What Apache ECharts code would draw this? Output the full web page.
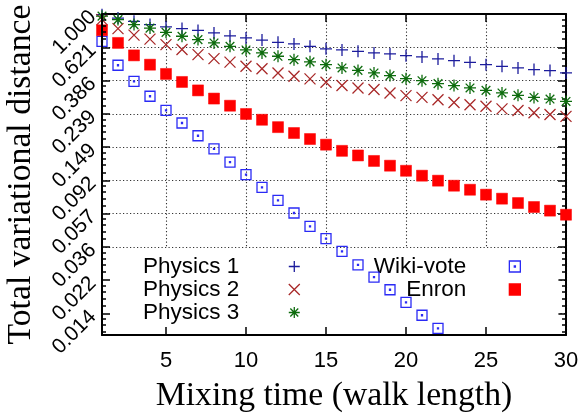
<!DOCTYPE html>
<html>
<head>
<meta charset="utf-8">
<title>Mixing time</title>
<script src="https://cdn.jsdelivr.net/npm/echarts@6/dist/echarts.min.js"></script>
<style>
  html, body { margin: 0; padding: 0; background: #fff; }
  #chart { width: 586px; height: 416px; }
</style>
</head>
<body>
<div id="chart"></div>
<script>
// walk length (x) and total variational distance per dataset
const walkLength = [1, 2, 3, 4, 5, 6, 7, 8, 9, 10, 11, 12, 13, 14, 15,
  16, 17, 18, 19, 20, 21, 22, 23, 24, 25, 26, 27, 28, 29, 30]
const physics1 = [0.990, 0.943, 0.901, 0.859, 0.831, 0.812, 0.791, 0.763, 0.731, 0.710,
  0.688, 0.667, 0.652, 0.630, 0.607, 0.598, 0.586, 0.573, 0.565, 0.551,
  0.541, 0.526, 0.513, 0.501, 0.484, 0.473, 0.462, 0.451, 0.445, 0.430]
const physics2 = [0.923, 0.811, 0.739, 0.698, 0.645, 0.601, 0.559, 0.528, 0.502, 0.473,
  0.457, 0.430, 0.410, 0.395, 0.376, 0.359, 0.347, 0.339, 0.323, 0.311,
  0.303, 0.293, 0.282, 0.273, 0.267, 0.257, 0.251, 0.243, 0.237, 0.231]
const physics3 = [0.970, 0.923, 0.859, 0.817, 0.769, 0.727, 0.693, 0.661, 0.630, 0.598,
  0.573, 0.546, 0.520, 0.504, 0.484, 0.462, 0.446, 0.430, 0.414, 0.396,
  0.385, 0.369, 0.359, 0.347, 0.335, 0.323, 0.312, 0.303, 0.296, 0.286]
const wikiVote = [0.676, 0.480, 0.381, 0.308, 0.252, 0.210, 0.175, 0.145, 0.120, 0.1002,
  0.0836, 0.0694, 0.0579, 0.0478, 0.0401, 0.0334, 0.0276, 0.0231, 0.0193, 0.0161,
  0.0134, 0.0111]
const enron = [0.792, 0.661, 0.553, 0.484, 0.424, 0.378, 0.335, 0.298, 0.269, 0.239,
  0.220, 0.198, 0.182, 0.167, 0.154, 0.141, 0.132, 0.122, 0.114, 0.106,
  0.0988, 0.0920, 0.0856, 0.0808, 0.0753, 0.0711, 0.0668, 0.0631, 0.0599, 0.0565]

// y ticks are powers of 1/0.621
const yLogBase = 1.6103
const yMin = 0.0101
const yMax = 1

// gnuplot-like point shapes
const plusPath = 'path://M0,5L10,5M5,0L5,10'
const crossPath = 'path://M0,0L10,10M10,0L0,10'
const starPath = 'path://M0,5L10,5M5,0L5,10M1.4,1.4L8.6,8.6M8.6,1.4L1.4,8.6'
const boxPath = 'path://M0,0L10,0L10,10L0,10ZM4.5,4.5L5.5,4.5L5.5,5.5L4.5,5.5Z'
const squarePath = 'path://M0,0L10,0L10,10L0,10Z'

const sans = 'Liberation Sans'
const serif = 'Liberation Serif'

function pairs(values) {
  return values.map((v, i) => [walkLength[i], v])
}

function pointSeries(name, values, symbol, size, color, filled) {
  return {
    name: name,
    type: 'scatter',
    data: pairs(values),
    symbol: symbol,
    symbolSize: size,
    clip: false,
    itemStyle: {
      color: filled ? color : 'rgba(0,0,0,0)',
      borderColor: color,
      borderWidth: filled ? 0.5 : 1.3,
      opacity: 1
    },
    emphasis: { disabled: true }
  }
}

const dotted = { color: '#333', width: 1.1, type: [1.2, 2.3] }
const frame = { color: '#000', width: 2 }

const chart = echarts.init(document.getElementById('chart'))
chart.setOption({
  animation: false,
  backgroundColor: '#fff',
  grid: { left: 102, right: 20, top: 14, bottom: 81, containLabel: false, outerBoundsMode: 'none' },
  legend: [{
    // white key box, hides the grid lines but sits under the points
    z: 1,
    orient: 'vertical',
    align: 'right',
    left: 103,
    top: 248,
    padding: [7, 258, 12, 40],
    backgroundColor: '#fff',
    itemWidth: 100,
    itemHeight: 11,
    itemGap: 0,
    selectedMode: false,
    itemStyle: { borderWidth: 1.3 },
    textStyle: { fontFamily: sans, fontSize: 22.5, color: '#000', lineHeight: 23 },
    data: ['Physics 1', 'Physics 2', 'Physics 3']
  }, {
    z: 1.5,
    orient: 'vertical',
    align: 'right',
    right: 65,
    top: 255,
    padding: 0,
    itemWidth: 87,
    itemHeight: 11,
    itemGap: 0,
    selectedMode: false,
    itemStyle: { borderWidth: 1.3 },
    textStyle: { fontFamily: sans, fontSize: 22.5, color: '#000', lineHeight: 23 },
    data: ['Wiki-vote', 'Enron']
  }],
  xAxis: [{
    type: 'value',
    position: 'bottom',
    min: 1,
    max: 30,
    z: 3,
    axisLine: { lineStyle: frame },
    axisTick: { inside: true, length: 8, lineStyle: { color: '#000', width: 1.5 } },
    axisLabel: { margin: 15, showMinLabel: false, fontFamily: sans, fontSize: 22, color: '#000' },
    splitLine: { show: false },
    name: 'Mixing time (walk length)',
    nameLocation: 'middle',
    nameGap: 44,
    nameTextStyle: { fontFamily: serif, fontSize: 33.7, color: '#000' }
  }, {
    type: 'value',
    position: 'top',
    min: 1,
    max: 30,
    z: 0,
    axisLine: { lineStyle: frame },
    axisTick: { inside: true, length: 8, lineStyle: { color: '#000', width: 1.5 } },
    axisLabel: { show: false },
    splitLine: { show: true, lineStyle: dotted }
  }],
  yAxis: [{
    type: 'log',
    logBase: yLogBase,
    position: 'left',
    min: yMin,
    max: yMax,
    z: 3,
    axisLine: { lineStyle: frame },
    axisTick: { inside: true, length: 8, lineStyle: { color: '#000', width: 1.5 } },
    minorTick: { show: true, splitNumber: 5, length: 4, lineStyle: { color: '#000', width: 1.5 } },
    axisLabel: {
      rotate: 45,
      margin: 9,
      showMinLabel: false,
      fontFamily: sans,
      fontSize: 21,
      color: '#000',
      formatter: v => v.toFixed(3)
    },
    splitLine: { show: false },
    name: 'Total variational distance',
    nameLocation: 'middle',
    nameGap: 57,
    nameTextStyle: { fontFamily: serif, fontSize: 33.7, color: '#000' }
  }, {
    type: 'log',
    logBase: yLogBase,
    position: 'right',
    min: yMin,
    max: yMax,
    z: 0,
    axisLine: { lineStyle: frame },
    axisTick: { inside: true, length: 8, lineStyle: { color: '#000', width: 1.5 } },
    minorTick: { show: true, splitNumber: 5, length: 4, lineStyle: { color: '#000', width: 1.5 } },
    axisLabel: { show: false },
    splitLine: { show: true, lineStyle: dotted }
  }],
  series: [
    pointSeries('Physics 1', physics1, plusPath, 12, '#1c1c9c', false),
    pointSeries('Physics 2', physics2, crossPath, 11, '#a82828', false),
    pointSeries('Physics 3', physics3, starPath, 12, '#0d6b0d', false),
    pointSeries('Wiki-vote', wikiVote, boxPath, 10, '#2a2af5', false),
    pointSeries('Enron', enron, squarePath, 11, '#ff0000', true)
  ]
})
</script>
</body>
</html>
